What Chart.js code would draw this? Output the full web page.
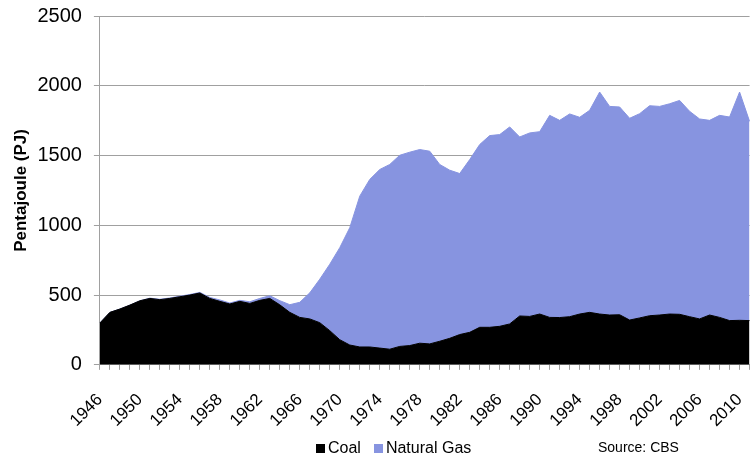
<!DOCTYPE html>
<html>
<head>
<meta charset="utf-8">
<script src="https://cdn.jsdelivr.net/npm/chart.js@4"></script>
<style>
  body { margin: 0; overflow: hidden; background: #fff; font-family: "Liberation Sans", Arial, sans-serif; }
  #wrap { position: relative; width: 784px; height: 464px; }
  #legend { position: absolute; left: 316px; top: 439px; font-size: 16px; color: #000; display: flex; align-items: center; }
  #legend span.item { display: flex; align-items: center; margin-right: 13px; }
  #legend span.box { display: inline-block; width: 9px; height: 9px; margin-right: 3px; }
  #source { position: absolute; left: 598px; top: 439px; font-size: 14px; color: #000; }
</style>
</head>
<body>
<div id="wrap">
  <canvas id="myChart" width="784" height="464"></canvas>
  <div id="legend"></div>
  <div id="source">Source: CBS</div>
</div>
<script>
const years = [
  1946, 1947, 1948, 1949, 1950, 1951, 1952, 1953, 1954, 1955, 1956,
  1957, 1958, 1959, 1960, 1961, 1962, 1963, 1964, 1965, 1966, 1967,
  1968, 1969, 1970, 1971, 1972, 1973, 1974, 1975, 1976, 1977, 1978,
  1979, 1980, 1981, 1982, 1983, 1984, 1985, 1986, 1987, 1988, 1989,
  1990, 1991, 1992, 1993, 1994, 1995, 1996, 1997, 1998, 1999, 2000,
  2001, 2002, 2003, 2004, 2005, 2006, 2007, 2008, 2009, 2010, 2011,
];

// PJ
const coal = [
  300, 376, 400, 428, 459, 476, 467, 476, 488, 500, 515,
  476, 455, 436, 455, 440, 462, 476, 430, 376, 340, 329,
  302, 245, 180, 142, 128, 128, 120, 112, 132, 138, 155,
  150, 169, 190, 217, 233, 269, 269, 276, 293, 350, 347,
  364, 340, 339, 345, 364, 376, 364, 357, 359, 321, 336,
  352, 357, 364, 362, 345, 329, 357, 340, 317, 319, 317,
];

const naturalGas = [
  0, 0, 0, 0, 0, 2, 3, 3, 4, 4, 4,
  7, 10, 7, 7, 12, 14, 19, 30, 55, 108, 187,
  312, 476, 660, 841, 1081, 1201, 1280, 1324, 1370, 1386, 1388,
  1381, 1267, 1205, 1154, 1238, 1310, 1374, 1374, 1412, 1283, 1315,
  1307, 1448, 1413, 1453, 1410, 1448, 1591, 1495, 1489, 1446, 1464,
  1505, 1495, 1507, 1533, 1472, 1433, 1395, 1448, 1459, 1636, 1428,
];

const yTicks = [0, 500, 1000, 1500, 2000, 2500];

const font = "'Liberation Sans', Arial, sans-serif";
const gridGrey = "#a0a0a0";

const seriesNames = ["Coal", "Natural Gas"];
const seriesColors = ["#000000", "#8794e0"];

const ctx = document.getElementById("myChart");

const chart = new Chart(ctx, {
  type: "line",
  data: {
    labels: years,
    datasets: [
      {
        label: seriesNames[0],
        data: coal,
        backgroundColor: seriesColors[0],
        borderColor: seriesColors[0],
        borderWidth: 1,
        pointRadius: 0,
        fill: "origin",
        tension: 0,
      },
      {
        label: seriesNames[1],
        data: naturalGas,
        backgroundColor: seriesColors[1],
        borderColor: seriesColors[1],
        borderWidth: 1,
        pointRadius: 0,
        fill: "-1",
        tension: 0,
      },
    ],
  },
  options: {
    responsive: false,
    animation: false,
    devicePixelRatio: 1,
    layout: { padding: { top: 1, left: 11, right: 0, bottom: 13 } },
    plugins: {
      legend: { display: false },
      tooltip: { enabled: false },
    },
    scales: {
      x: {
        offset: false,
        grid: {
          display: true,
          drawOnChartArea: false,
          tickLength: 5,
          color: gridGrey,
        },
        border: { color: gridGrey },
        ticks: {
          autoSkip: false,
          minRotation: 45,
          maxRotation: 45,
          padding: 20,
          labelOffset: 0,
          color: "#000",
          font: { family: font, size: 17 },
          callback: (value, index) => (index % 4 === 0 ? years[index] : ""),
        },
      },
      y: {
        stacked: true,
        min: 0,
        max: 2500,
        afterBuildTicks: (axis) => {
          axis.ticks = yTicks.map((v) => ({ value: v }));
        },
        grid: { color: gridGrey, tickLength: 6 },
        border: { color: gridGrey },
        ticks: {
          padding: 12,
          color: "#000",
          font: { family: font, size: 20, lineHeight: 0.4 },
          callback: (value) => String(value),
        },
        title: {
          display: true,
          text: "Pentajoule (PJ)",
          color: "#000",
          font: { family: font, size: 17, weight: "bold" },
          padding: { top: 0, bottom: -6 },
        },
      },
    },
  },
});

/* legend built from the series arrays */
const legend = document.getElementById("legend");
seriesNames.forEach((name, i) => {
  const item = document.createElement("span");
  item.className = "item";
  const box = document.createElement("span");
  box.className = "box";
  box.style.background = seriesColors[i];
  item.appendChild(box);
  item.appendChild(document.createTextNode(name));
  legend.appendChild(item);
});
</script>
</body>
</html>
